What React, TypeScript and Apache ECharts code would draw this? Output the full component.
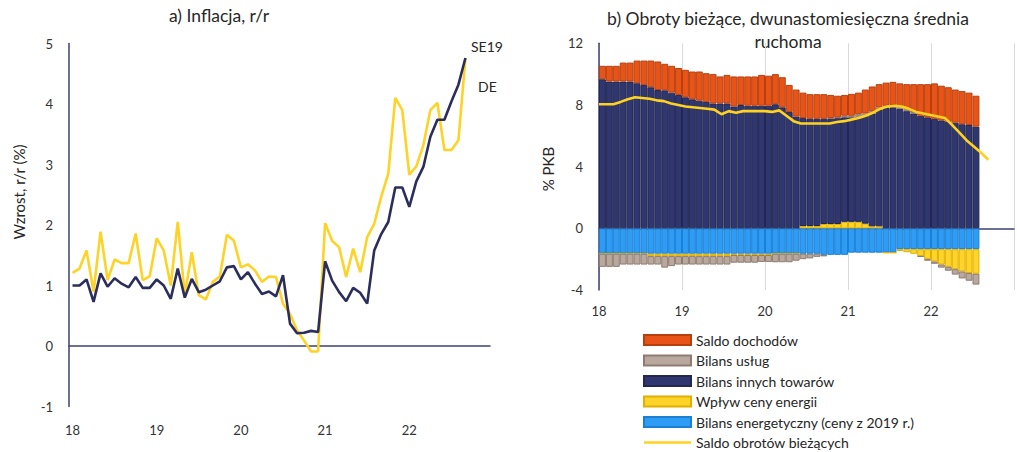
import React, { useEffect, useRef } from 'react';
import * as echarts from 'echarts';

// ---------- categories ----------
const MONTHS: string[] = [];
for (let y = 2018; y <= 2022; y++) {
  for (let m = 1; m <= 12; m++) MONTHS.push(`${y}-${m < 10 ? '0' + m : m}`);
}
const YEAR_TICKS = ['18', '19', '20', '21', '22'];

// ---------- a) Inflacja, r/r (Jan 2018 - Sep 2022) ----------
const SE19 = [
  1.0, 1.0, 1.1, 0.73, 1.2, 0.98, 1.12, 1.03, 0.97, 1.14, 0.96, 0.96,
  1.1, 1.0, 0.78, 1.28, 0.8, 1.11, 0.89, 0.93, 1.0, 1.07, 1.3, 1.32,
  1.1, 1.22, 1.03, 0.86, 0.9, 0.82, 1.17, 0.37, 0.21, 0.22, 0.25, 0.23,
  1.4, 1.08, 0.89, 0.74, 0.96, 0.88, 0.7, 1.58, 1.85, 2.05, 2.62, 2.62,
  2.3, 2.72, 2.96, 3.46, 3.74, 3.74, 4.04, 4.32, 4.76,
];
const DE = [
  1.21, 1.28, 1.58, 0.9, 1.89, 1.09, 1.43, 1.37, 1.37, 1.86, 1.09, 1.15,
  1.78, 1.58, 1.0, 2.05, 0.84, 1.55, 0.84, 0.77, 1.06, 1.15, 1.84, 1.74,
  1.3, 1.35, 1.25, 1.06, 1.15, 1.14, 0.7, 0.53, 0.26, 0.09, -0.09, -0.09,
  2.03, 1.74, 1.63, 1.14, 1.61, 1.22, 1.8, 2.02, 2.47, 2.85, 4.1, 3.9,
  2.83, 2.97, 3.32, 3.9, 4.02, 3.24, 3.24, 3.4, 4.76,
];

// ---------- b) Obroty bieżące (Jan 2018 - Jul 2022), % PKB ----------
const ENERGY_BAL = [
  -1.65, -1.65, -1.65, -1.65, -1.65, -1.65, -1.65, -1.65, -1.65, -1.65, -1.65, -1.65,
  -1.65, -1.65, -1.65, -1.65, -1.65, -1.65, -1.65, -1.65, -1.65, -1.65, -1.65, -1.65,
  -1.65, -1.65, -1.65, -1.65, -1.65, -1.65, -1.65, -1.65, -1.72, -1.72, -1.72, -1.72,
  -1.58, -1.58, -1.58, -1.58, -1.58, -1.58, -1.58, -1.35, -1.35, -1.35, -1.35, -1.35,
  -1.35, -1.35, -1.35, -1.35, -1.35, -1.35, -1.35,
];
const ENERGY_PRICE = [
  0, 0, 0, 0, 0, 0, 0, -0.15, -0.15, -0.15, -0.15, -0.15,
  -0.15, -0.15, -0.15, -0.15, -0.15, -0.15, -0.15, -0.08, -0.08, -0.08, -0.08, -0.08,
  -0.08, 0, 0, 0, 0, 0.15, 0.15, 0.15, 0.28, 0.28, 0.28, 0.42,
  0.42, 0.42, 0.3, 0.13, 0.13, 0, 0, -0.12, -0.2, -0.3, -0.45, -0.65,
  -0.8, -1.0, -1.15, -1.3, -1.45, -1.55, -1.6,
];
const OTHER_GOODS = [
  9.67, 9.52, 9.52, 9.52, 9.52, 9.41, 9.3, 9.15, 8.97, 8.95, 8.8, 8.65,
  8.5, 8.37, 8.28, 8.2, 8.1, 8.1, 8.1, 7.9, 8.0, 7.95, 7.95, 7.95,
  7.95, 8.05, 7.85, 7.55, 7.25, 7.0, 6.95, 6.95, 6.82, 6.82, 6.87, 6.78,
  6.78, 6.83, 7.0, 7.32, 7.57, 7.8, 7.85, 7.75, 7.6, 7.45, 7.3, 7.2,
  7.1, 7.0, 6.9, 6.85, 6.75, 6.7, 6.6,
];
const SERVICES = [
  -0.85, -0.85, -0.85, -0.7, -0.7, -0.7, -0.7, -0.55, -0.55, -0.75, -0.65, -0.55,
  -0.55, -0.55, -0.55, -0.55, -0.55, -0.55, -0.55, -0.5, -0.5, -0.5, -0.5, -0.45,
  -0.45, -0.55, -0.55, -0.55, -0.45, -0.35, -0.3, -0.2, -0.1, 0.05, 0.05, 0.1,
  0.1, 0.15, 0.15, 0.15, 0.15, 0.15, 0.15, 0.15, 0.12, 0.08, -0.05, -0.1,
  -0.15, -0.2, -0.25, -0.35, -0.45, -0.5, -0.7,
];
const INCOME = [
  0.87, 1.02, 1.02, 1.23, 1.23, 1.47, 1.58, 1.73, 1.85, 1.72, 1.74, 1.75,
  1.78, 1.8, 1.89, 1.86, 1.9, 1.75, 1.85, 1.95, 1.85, 1.9, 1.9, 2.0,
  1.95, 1.95, 1.95, 1.75, 1.75, 1.65, 1.6, 1.6, 1.6, 1.5, 1.4, 1.35,
  1.42, 1.4, 1.55, 1.6, 1.5, 1.5, 1.5, 1.5, 1.63, 1.82, 2.05, 2.15,
  2.3, 2.25, 2.25, 2.15, 2.15, 2.1, 2.0,
];
const CURRENT_ACCOUNT = [
  8.05, 8.05, 8.05, 8.2, 8.37, 8.5, 8.45, 8.4, 8.3, 8.25, 8.1, 8.0,
  7.9, 7.85, 7.8, 7.75, 7.7, 7.4, 7.6, 7.5, 7.6, 7.6, 7.6, 7.6,
  7.55, 7.65, 7.3, 6.95, 6.8, 6.8, 6.8, 6.8, 6.8, 6.9, 6.95, 7.05,
  7.15, 7.3, 7.5, 7.75, 7.9, 7.95, 7.9, 7.75, 7.55, 7.45, 7.35, 7.25,
  7.15, 6.7, 6.2, 5.7, 5.3, 4.9, 4.45,
];

const FONT = 'Lato';
const AXIS_COLOR = '#3d4170';
const LABEL_COLOR = '#333333';
const TEXT_COLOR = '#262626';
const LINE_ICON = 'path://M0,0 M0,3.8 L47,3.8 L47,6.2 L0,6.2 Z M47,10';

export default function App() {
  const ref = useRef<HTMLDivElement>(null);

  useEffect(() => {
    if (!ref.current) return;
    const chart = echarts.init(ref.current, undefined, { renderer: 'svg' });

    const barSeries = (
      name: string,
      data: number[],
      color: string,
      border: string
    ) => ({
      name,
      type: 'bar',
      stack: 'ca',
      xAxisIndex: 3,
      yAxisIndex: 1,
      data,
      barCategoryGap: '0%',
      itemStyle: { color, borderColor: border, borderWidth: 1 },
    });

    const text = (
      t: string,
      x: number,
      y: number,
      fontSize: number,
      extra: any = {},
      styleExtra: any = {}
    ) => ({
      type: 'text',
      x,
      y,
      ...extra,
      style: {
        text: t,
        fontSize,
        fontFamily: FONT,
        fill: TEXT_COLOR,
        align: 'center',
        verticalAlign: 'middle',
        ...styleExtra,
      },
    });

    const option: any = {
      animation: false,
      textStyle: { fontFamily: FONT },
      grid: [
        { left: 69, top: 43.5, width: 421, height: 363 },
        { left: 599, top: 43.3, width: 425.4, height: 246.7 },
        { left: 599, top: 43.3, width: 389.3, height: 246.7 },
      ],
      xAxis: [
        {
          gridIndex: 0,
          type: 'category',
          data: MONTHS,
          boundaryGap: true,
          axisLine: { show: false, onZero: false },
          axisTick: { show: false },
          axisLabel: {
            interval: 11,
            margin: 17,
            fontSize: 13,
            color: LABEL_COLOR,
            fontFamily: FONT,
            formatter: (v: string) => YEAR_TICKS[Number(v.slice(0, 4)) - 2018],
          },
          splitLine: { show: false },
        },
        {
          gridIndex: 0,
          type: 'category',
          data: MONTHS,
          axisLine: { show: true, onZero: true, lineStyle: { color: AXIS_COLOR, width: 1.5 } },
          axisTick: { show: false },
          axisLabel: { show: false },
          splitLine: { show: false },
        },
        {
          gridIndex: 1,
          type: 'value',
          min: 0,
          max: 60,
          interval: 12,
          axisLine: { show: false, onZero: false },
          axisTick: { show: false },
          axisLabel: {
            margin: 14,
            fontSize: 13,
            color: LABEL_COLOR,
            fontFamily: FONT,
            formatter: (v: number) => YEAR_TICKS[v / 12] ?? '',
          },
          splitLine: { show: true, lineStyle: { color: '#d9d9d9', width: 1 } },
        },
        {
          gridIndex: 1,
          type: 'category',
          data: MONTHS,
          axisLine: { show: true, onZero: true, lineStyle: { color: AXIS_COLOR, width: 1.5 } },
          axisTick: { show: false },
          axisLabel: { show: false },
          splitLine: { show: false },
        },
        {
          gridIndex: 2,
          type: 'category',
          data: MONTHS.slice(0, CURRENT_ACCOUNT.length),
          boundaryGap: false,
          show: false,
        },
      ],
      yAxis: [
        {
          gridIndex: 0,
          type: 'value',
          min: -1,
          max: 5,
          interval: 1,
          axisLine: { show: true, lineStyle: { color: AXIS_COLOR, width: 1.5 } },
          axisTick: { show: false },
          splitLine: { show: false },
          axisLabel: { margin: 16, fontSize: 13, color: LABEL_COLOR, fontFamily: FONT },
        },
        {
          gridIndex: 1,
          type: 'value',
          min: -4,
          max: 12,
          interval: 4,
          axisLine: { show: true, lineStyle: { color: AXIS_COLOR, width: 1.5 } },
          axisTick: { show: false },
          splitLine: { show: false },
          axisLabel: { margin: 16, fontSize: 13, color: LABEL_COLOR, fontFamily: FONT },
        },
        {
          gridIndex: 2,
          type: 'value',
          min: -4,
          max: 12,
          show: false,
          splitLine: { show: false },
        },
      ],
      legend: {
        orient: 'vertical',
        left: 643,
        top: 333,
        height: 140,
        padding: 0,
        itemWidth: 47,
        itemHeight: 10,
        itemGap: 6.5,
        textStyle: { fontSize: 14, color: TEXT_COLOR, fontFamily: FONT },
        data: [
          { name: 'Saldo dochodów', icon: 'rect' },
          { name: 'Bilans usług', icon: 'rect' },
          { name: 'Bilans innych towarów', icon: 'rect' },
          { name: 'Wpływ ceny energii', icon: 'rect' },
          { name: 'Bilans energetyczny (ceny z 2019 r.)', icon: 'rect' },
          {
            name: 'Saldo obrotów bieżących',
            icon: LINE_ICON,
            itemStyle: { color: '#ffd21f', borderWidth: 0 },
          },
        ],
      },
      series: [
        {
          name: 'DE',
          type: 'line',
          xAxisIndex: 0,
          yAxisIndex: 0,
          data: DE,
          symbol: 'none',
          lineStyle: { color: '#fdd327', width: 2.6 },
          itemStyle: { color: '#fdd327' },
        },
        {
          name: 'SE19',
          type: 'line',
          xAxisIndex: 0,
          yAxisIndex: 0,
          data: SE19,
          symbol: 'none',
          lineStyle: { color: '#2b2e5c', width: 2.6 },
          itemStyle: { color: '#2b2e5c' },
        },
        barSeries('Bilans energetyczny (ceny z 2019 r.)', ENERGY_BAL, '#2e9cf5', '#1b7fd4'),
        barSeries('Wpływ ceny energii', ENERGY_PRICE, '#ffd42a', '#e0b000'),
        barSeries('Bilans innych towarów', OTHER_GOODS, '#2f3670', '#22284f'),
        barSeries('Bilans usług', SERVICES, '#b8a89e', '#8e7c70'),
        barSeries('Saldo dochodów', INCOME, '#e85418', '#b8400f'),
        {
          name: 'Saldo obrotów bieżących',
          type: 'line',
          xAxisIndex: 4,
          yAxisIndex: 2,
          data: CURRENT_ACCOUNT,
          symbol: 'none',
          z: 5,
          lineStyle: { color: '#ffd21f', width: 2.6 },
          itemStyle: { color: '#ffd21f' },
        },
      ],
      graphic: [
        text('a) Inflacja, r/r', 219, 15, 17.5),
        text('b) Obroty bieżące, dwunastomiesięczna średnia\nruchoma', 788, 29.5, 17.5, {}, { lineHeight: 23 }),
        text('Wzrost, r/r (%)', 19, 192, 15, { rotation: Math.PI / 2 }),
        text('% PKB', 548, 169, 15, { rotation: Math.PI / 2 }),
        text('SE19', 471, 46, 14, {}, { align: 'left' }),
        text('DE', 478, 86, 14, {}, { align: 'left' }),
      ],
    };

    chart.setOption(option);
    return () => chart.dispose();
  }, []);

  return (
    <div
      ref={ref}
      style={{ position: 'absolute', left: 0, top: 0, width: 1017, height: 452, background: '#ffffff' }}
    />
  );
}
